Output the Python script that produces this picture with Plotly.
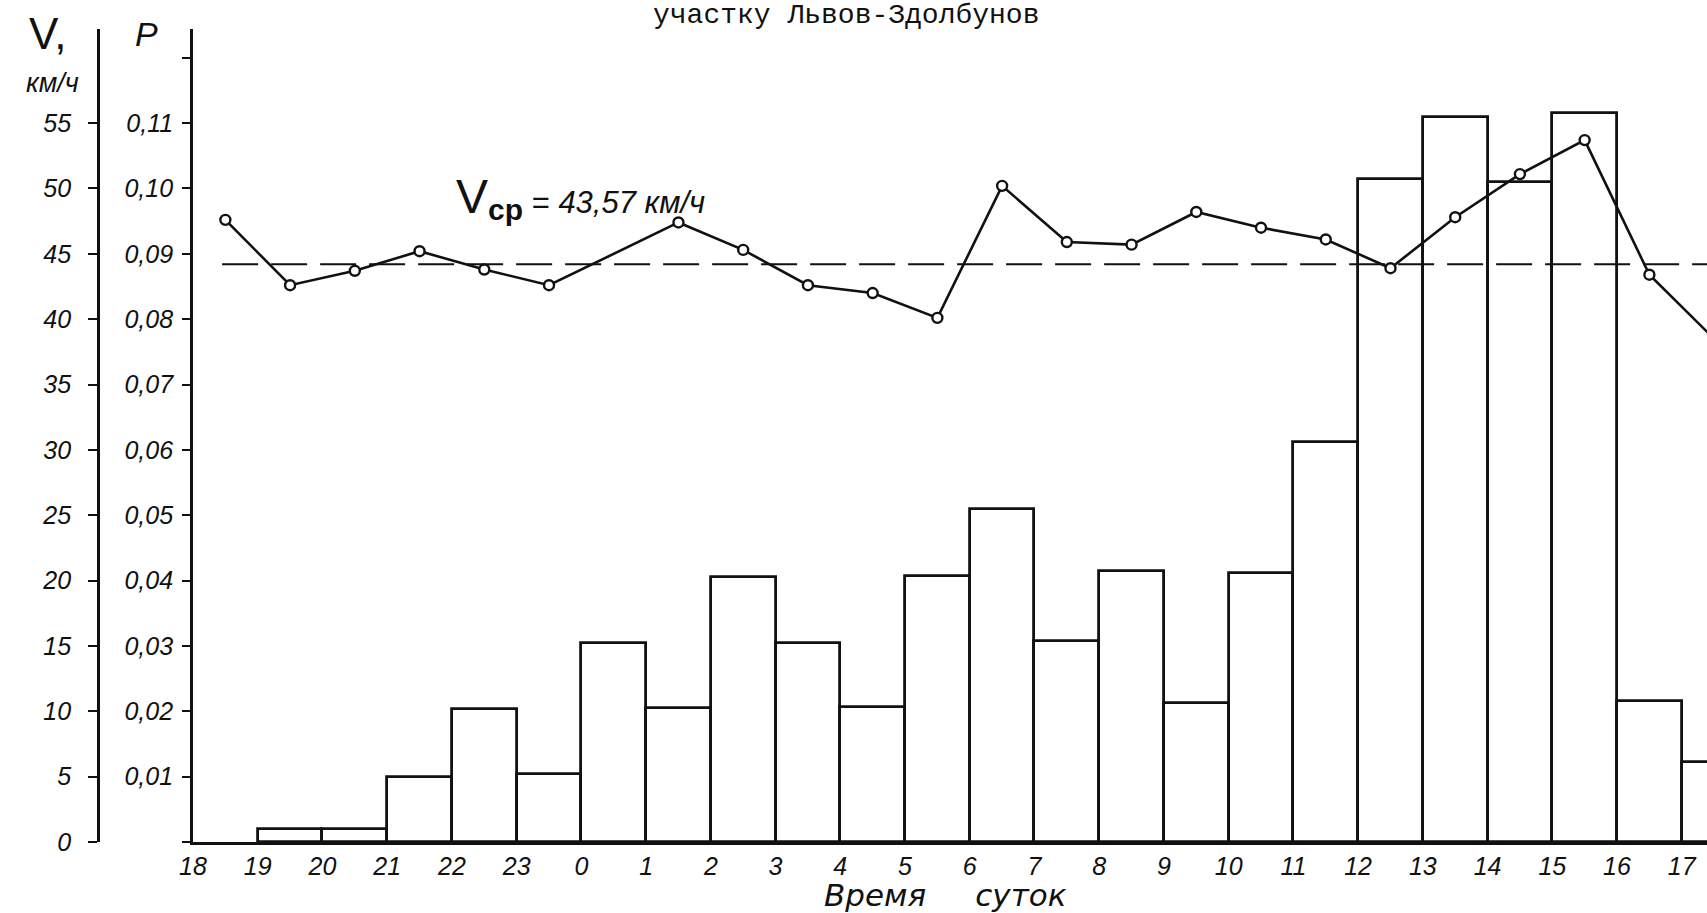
import plotly.graph_objects as go

# ---------------- data ----------------
hour_labels = ["18", "19", "20", "21", "22", "23", "0", "1", "2", "3", "4", "5",
               "6", "7", "8", "9", "10", "11", "12", "13", "14", "15", "16", "17"]
# probability P for the hour interval starting at each label
bar_p = [None, 0.002, 0.002, 0.010, 0.0203, 0.0104, 0.0304, 0.0205, 0.0405, 0.0305,
         0.0207, 0.0407, 0.0509, 0.0308, 0.0414, 0.0213, 0.0412, 0.0612, 0.1015,
         0.111, 0.101, 0.1115, 0.0215, 0.0122]
# mean speed V, km/h, plotted at the middle of each hour interval
speed_v = [47.6, 42.6, 43.7, 45.2, 43.8, 42.6, None, 47.4, 45.3, 42.6, 42.0, 40.1,
           50.2, 45.9, 45.7, 48.2, 47.0, 46.1, 43.9, 47.8, 51.1, 53.7, 43.4, 38.5]
v_mean_label = "43,57"
v_mean_drawn = 44.2

v_ticks = [0, 5, 10, 15, 20, 25, 30, 35, 40, 45, 50, 55]
p_ticks = [0.01, 0.02, 0.03, 0.04, 0.05, 0.06, 0.07, 0.08, 0.09, 0.10, 0.11]
p_ticktext = ["0,01", "0,02", "0,03", "0,04", "0,05", "0,06", "0,07", "0,08",
              "0,09", "0,10", "0,11"]

# ---------------- geometry helpers ----------------
L, R, T, B = 60, 0, 29, 71
WIDTH, HEIGHT = 1707, 913
PW = WIDTH - L - R
PH = HEIGHT - T - B


def px(x):
    return (x - L) / PW


def py(y):
    return (HEIGHT - B - y) / PH


X_MAX = 23.39
P_MAX = 0.1244
V_MAX = P_MAX * 500

n = len(hour_labels)
centers = [i + 0.5 for i in range(n)]

ink = "#111111"
tickfont = dict(family="Liberation Sans", size=25, color=ink, style="italic")

fig = go.Figure()

fig.add_trace(go.Bar(
    x=centers, y=bar_p, width=[1.0] * n, yaxis="y",
    marker=dict(color="rgba(255,255,255,0)", line=dict(color=ink, width=2.8)),
    showlegend=False, hoverinfo="skip",
))

fig.add_trace(go.Scatter(
    x=[0.45, X_MAX], y=[v_mean_drawn, v_mean_drawn], yaxis="y2", mode="lines",
    line=dict(color=ink, width=2.2, dash="36px,13px"), showlegend=False, hoverinfo="skip",
))

fig.add_trace(go.Scatter(
    x=centers, y=speed_v, yaxis="y2", mode="lines+markers", connectgaps=True,
    line=dict(color=ink, width=2.6),
    marker=dict(symbol="circle", size=10, color="white", line=dict(color=ink, width=2.4)),
    showlegend=False,
))

fig.update_layout(
    width=WIDTH, height=HEIGHT,
    margin=dict(l=L, r=R, t=T, b=B, pad=0),
    paper_bgcolor="white", plot_bgcolor="white",
    bargap=0,
    xaxis=dict(
        domain=[px(193), 1], range=[0, X_MAX],
        tickmode="array", tickvals=list(range(n)), ticktext=hour_labels,
        ticks="", showgrid=False, zeroline=False,
        showline=True, linecolor=ink, linewidth=2.8,
        tickfont=dict(family="Liberation Sans", size=25, color=ink, style="italic"),
        ticklabelstandoff=0,
    ),
    yaxis=dict(
        range=[0, P_MAX], tickmode="array", tickvals=p_ticks, ticktext=p_ticktext,
        ticks="outside", ticklen=8, tickwidth=2, tickcolor=ink,
        minor=dict(tick0=0, dtick=0.12, ticks="outside", ticklen=8, tickwidth=2,
                   tickcolor=ink, showgrid=False),
        showgrid=False, zeroline=False,
        showline=True, linecolor=ink, linewidth=2.8,
        tickfont=tickfont, ticklabelstandoff=4,
    ),
    yaxis2=dict(
        range=[0, V_MAX], overlaying="y", anchor="free", position=px(98), side="left",
        tickmode="array", tickvals=v_ticks, ticktext=[str(v) for v in v_ticks],
        ticks="outside", ticklen=9, tickwidth=2, tickcolor=ink,
        showgrid=False, zeroline=False,
        showline=True, linecolor=ink, linewidth=2.8,
        tickfont=tickfont, ticklabelstandoff=12,
    ),
)

ann = [
    dict(text="участку Львов-Здолбунов", x=px(846), y=py(15),
         font=dict(family="Liberation Mono", size=28, color=ink)),
    dict(text="V,", x=px(48), y=py(33),
         font=dict(family="Liberation Sans", size=44, color=ink)),
    dict(text="км/ч", x=px(52), y=py(83),
         font=dict(family="Liberation Sans", size=27, color=ink, style="italic")),
    dict(text="P", x=px(146), y=py(34),
         font=dict(family="Liberation Sans", size=34, color=ink, style="italic")),
    dict(text="<span style='font-size:48px'>V</span>"
              "<sub><b><span style='font-size:30px'>ср</span></b></sub>"
              " = <i>" + v_mean_label + " км/ч</i>",
         x=px(454), y=py(198), xanchor="left",
         font=dict(family="Liberation Sans", size=31, color=ink)),
    dict(text="Время\u00a0\u00a0\u00a0\u00a0\u00a0суток", x=px(945), y=py(895),
         font=dict(family="DejaVu Sans", size=31, color=ink, style="italic")),
]
for a in ann:
    a.setdefault("xanchor", "center")
    fig.add_annotation(xref="paper", yref="paper", showarrow=False, yanchor="middle", **a)

fig.write_html("out.html")
